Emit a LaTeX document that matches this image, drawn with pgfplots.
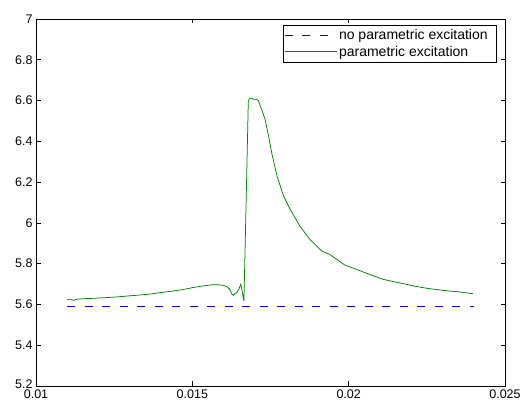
\documentclass[border=0pt]{standalone}
\usepackage{pgfplots}
\pgfplotsset{compat=1.18}
\usepackage{fontspec}
\setmainfont{Liberation Sans}

\definecolor{mlblue}{rgb}{0,0,1}
\definecolor{mlgreen}{rgb}{0,0.5,0}

\begin{document}
\begin{tikzpicture}
\begin{axis}[
  name=ax,
  scale only axis,
  width=469pt, height=367pt,
  xmin=0.01, xmax=0.025, ymin=5.2, ymax=7,
  xtick={0.01,0.015,0.02,0.025},
  ytick={5.2,5.4,5.6,5.8,6,6.2,6.4,6.6,6.8,7},
  yticklabels={\raisebox{4.5pt}{5.2},5.4,5.6,5.8,6,6.2,6.4,6.6,6.8,7},
  scaled ticks=false,
  xticklabel style={/pgf/number format/fixed, /pgf/number format/precision=3},
  /pgf/number format/assume math mode=true,
  tick align=inside,
  major tick length=4.5pt,
  tick style={black, line width=0.6pt},
  axis line style={black, line width=0.7pt},
  ticklabel style={font=\fontsize{12.5}{15}\selectfont},
  legend style={at={(0.9829,0.9837)}, anchor=north east, draw=black,
    line width=0.6pt, fill=white, font=\fontsize{14}{16}\selectfont,
    inner xsep=1pt, inner ysep=3.5pt, row sep=3pt,
    nodes={inner sep=1pt}, column sep=1pt},
  legend cell align=left,
  legend image code/.code={\draw[#1, line width=1pt] (0pt,0.5pt) -- (52pt,0.5pt);},
]
\addplot[color=mlblue, draw=mlblue, line width=0.75pt, dash pattern=on 8pt off 9.5pt] coordinates {
(0.011,5.59) (0.024,5.59)
};
\addlegendentry{no parametric excitation\hspace*{7pt}}
\addplot[color=mlgreen, draw=mlgreen, line width=0.75pt] coordinates {
(0.01100,5.624) (0.01110,5.626) (0.01120,5.620) (0.01130,5.626) (0.01150,5.628)
(0.01183,5.630) (0.01220,5.633) (0.01260,5.637) (0.01290,5.641) (0.01330,5.646)
(0.01370,5.652) (0.01397,5.658) (0.01430,5.664) (0.01470,5.673) (0.01503,5.683)
(0.01530,5.690) (0.01567,5.697) (0.01585,5.696) (0.01599,5.694) (0.01612,5.686)
(0.01620,5.674) (0.01626,5.652) (0.01631,5.645) (0.01637,5.655) (0.01642,5.658)
(0.01648,5.672) (0.01655,5.699) (0.01660,5.660) (0.01665,5.617) (0.01672,6.100)
(0.01679,6.595) (0.01682,6.609) (0.01690,6.612) (0.01697,6.606) (0.01704,6.607)
(0.01711,6.600) (0.01722,6.555) (0.01733,6.506) (0.01744,6.424) (0.01755,6.335)
(0.01771,6.229) (0.01792,6.131) (0.01813,6.066) (0.01844,5.984) (0.01876,5.919)
(0.01914,5.862) (0.01940,5.845) (0.01962,5.821) (0.01988,5.793) (0.02015,5.778)
(0.02047,5.759) (0.02080,5.740) (0.02111,5.723) (0.02140,5.713) (0.02175,5.702)
(0.02210,5.690) (0.02239,5.682) (0.02265,5.676) (0.02292,5.671) (0.02320,5.666)
(0.02346,5.663) (0.02370,5.658) (0.02397,5.653)
};
\addlegendentry{parametric excitation}
\end{axis}
\pgfresetboundingbox
\path ([xshift=-36pt,yshift=-20pt]ax.south west) rectangle ([xshift=18pt,yshift=19pt]ax.north east);
\end{tikzpicture}
\end{document}
